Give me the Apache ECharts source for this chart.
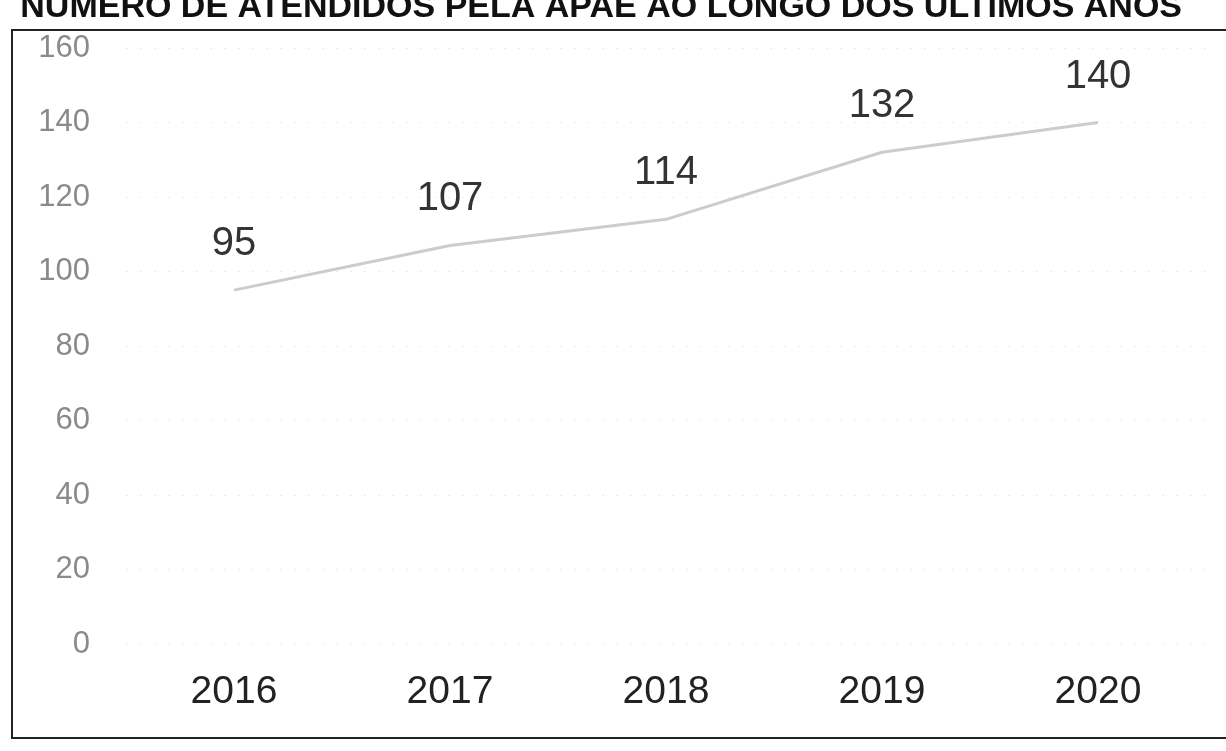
<!DOCTYPE html>
<html>
<head>
<meta charset="utf-8">
<script src="https://cdn.jsdelivr.net/npm/echarts@6/dist/echarts.min.js"></script>
<style>
html,body{margin:0;padding:0;background:#fff;}
#c{width:1226px;height:751px;}
</style>
</head>
<body>
<div id="c"></div>
<script>
const titleText = 'NÚMERO DE ATENDIDOS PELA APAE AO LONGO DOS ÚLTIMOS ANOS';
const categories = ['2016', '2017', '2018', '2019', '2020'];
const atendidos = [95, 107, 114, 132, 140];
const yTicks = { min: 0, max: 160, interval: 20 };

const FONT = '"Liberation Sans", Arial, sans-serif';
const chart = echarts.init(document.getElementById('c'), null, { renderer: 'canvas' });
chart.setOption({
  backgroundColor: '#ffffff',
  animation: false,
  graphic: [
    {
      type: 'rect',
      shape: { x: 12, y: 30, width: 1240, height: 708 },
      style: { fill: 'none', stroke: '#222', lineWidth: 2 },
      z: 0
    },
    {
      type: 'text',
      x: 1182, y: 25,
      style: {
        text: titleText,
        font: 'bold 34px "Liberation Sans", Arial, sans-serif',
        fill: '#111',
        align: 'right',
        verticalAlign: 'bottom'
      },
      z: 10
    }
  ],
  grid: { left: 126, right: 20, top: 48, bottom: 107, containLabel: false },
  xAxis: {
    type: 'category',
    data: categories,
    boundaryGap: true,
    axisLine: { show: false },
    axisTick: { show: false },
    axisLabel: {
      margin: 29,
      fontSize: 39,
      color: '#222',
      fontFamily: FONT
    }
  },
  yAxis: {
    type: 'value',
    min: yTicks.min, max: yTicks.max, interval: yTicks.interval,
    axisLine: { show: false },
    axisTick: { show: false },
    axisLabel: {
      margin: 36,
      fontSize: 31,
      color: '#8a8a8a',
      fontFamily: FONT
    },
    splitLine: { show: true, lineStyle: { color: '#ececec', type: [2, 12], width: 1 } }
  },
  series: [{
    type: 'line',
    data: atendidos,
    symbol: 'circle',
    symbolSize: 0,
    showSymbol: true,
    lineStyle: { color: '#cccccc', width: 3 },
    itemStyle: { color: '#cccccc' },
    label: {
      show: true,
      position: 'top',
      distance: 26,
      fontSize: 40,
      color: '#333',
      fontFamily: FONT
    }
  }]
});
</script>
</body>
</html>
